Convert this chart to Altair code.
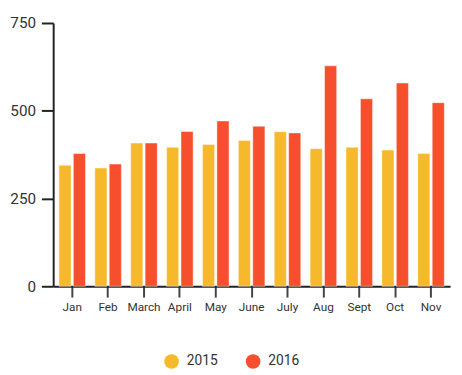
import altair as alt
import pandas as pd

months = ["Jan", "Feb", "March", "April", "May", "June", "July", "Aug", "Sept", "Oct", "Nov"]
values_2015 = [345, 337, 408, 396, 404, 415, 440, 392, 396, 388, 378]
values_2016 = [378, 348, 408, 441, 471, 456, 437, 628, 534, 579, 523]
years = ["2015", "2016"]
colors = ["#F6B92B", "#F64F2D"]
y_ticks = [0, 250, 500, 750]

rows = []
for m, a, b in zip(months, values_2015, values_2016):
    rows.append({"month": m, "year": "2015", "value": a})
    rows.append({"month": m, "year": "2016", "value": b})
df = pd.DataFrame(rows)

font = "Roboto"

chart = alt.Chart(df).mark_bar(
    stroke="white", strokeWidth=1, strokeOpacity=0.45
).encode(
    x=alt.X("month:N", sort=months,
            scale=alt.Scale(paddingInner=0.26, paddingOuter=0.16),
            axis=alt.Axis(title=None, labelAngle=0, labelFontSize=12, labelFont=font,
                          labelColor="#333", tickSize=11, tickWidth=2, tickColor="#444",
                          domainColor="#222", domainWidth=2, labelPadding=5)),
    xOffset=alt.XOffset("year:N", scale=alt.Scale(paddingInner=0.16)),
    y=alt.Y("value:Q", scale=alt.Scale(domain=[0, 750], nice=False),
            axis=alt.Axis(title=None, values=y_ticks, grid=False, labelFontSize=15.5,
                          labelFont=font, labelColor="#333", tickSize=12, tickWidth=2,
                          tickColor="#222", domainColor="#222", domainWidth=2,
                          labelPadding=6)),
    color=alt.Color("year:N", scale=alt.Scale(domain=years, range=colors),
                    legend=alt.Legend(title=None, orient="none", direction="horizontal",
                                      legendX=113, legendY=337, symbolType="circle",
                                      symbolSize=220, symbolStrokeWidth=0,
                                      labelFontSize=14, labelFont=font, labelColor="#333",
                                      columnPadding=28, labelOffset=8)),
).properties(
    width=404, height=268,
    background="white",
    autosize=alt.AutoSizeParams(type="none"),
    padding={"left": 46, "top": 12, "right": 4, "bottom": 85},
).configure(background="white", view=alt.ViewConfig(stroke=None, strokeWidth=0))

chart.save("out.html", embed_options={"renderer": "svg", "actions": False})
